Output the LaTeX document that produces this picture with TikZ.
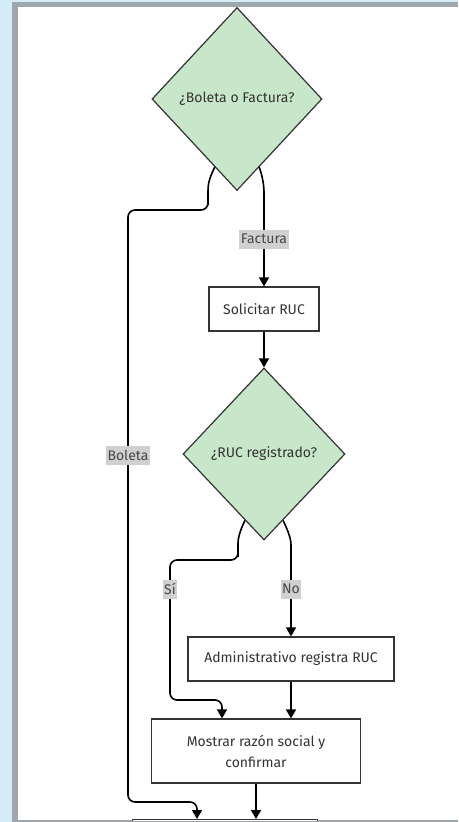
\documentclass[tikz,border=0pt]{standalone}
\usepackage{fontspec}
\setmainfont{Fira Sans}
\usetikzlibrary{shapes.geometric,arrows.meta,calc}
\definecolor{bgblue}{HTML}{D4ECF8}
\definecolor{framegray}{HTML}{9EA7AD}
\definecolor{dgreen}{HTML}{C8E6C9}
\definecolor{ink}{HTML}{333333}
\definecolor{lblgray}{HTML}{D0D0D0}
\begin{document}
\begin{tikzpicture}[x=1pt,y=-1pt,
  every node/.style={font=\fontsize{14}{21}\selectfont, text=ink},
  decision/.style={diamond, draw=ink, fill=dgreen, line width=1.2pt, inner sep=0pt},
  stepbox/.style={rectangle, draw=ink, fill=white, line width=1.2pt, inner sep=0pt, align=center},
  flow/.style={draw=black, line width=1.6pt, -{Triangle[length=9pt,width=10pt]}, rounded corners=7pt},
  lbl/.style={fill=lblgray, inner xsep=1.5pt, inner ysep=0pt, minimum height=19pt, text=ink!90}
]
\useasboundingbox (0,0) rectangle (458,822);
\fill[bgblue] (0,0) rectangle (458,822);
\fill[framegray] (12,2) rectangle (458,822);
\fill[white] (18,7) rectangle (458,820);
\clip (18,7) rectangle (458,820);

% nodes
\node[decision, minimum width=170pt, minimum height=183pt] (d1) at (237,99) {¿Boleta o Factura?};
\node[stepbox, minimum width=110pt, minimum height=44pt] (sol) at (264,309) {Solicitar RUC};
\node[decision, minimum width=162pt, minimum height=172pt] (d2) at (264,454) {¿RUC registrado?};
\node[stepbox, minimum width=206pt, minimum height=44pt] (adm) at (291,659) {Administrativo registra RUC};
\node[stepbox, minimum width=209pt, minimum height=64pt] (mos) at (256,751) {Mostrar razón social y\\confirmar};
\node[stepbox, minimum width=185pt, minimum height=40pt, anchor=north] (fin) at (225,819) {};

% helper coordinates on diamond sides
\coordinate (d1l) at ($(d1.west)!0.74!(d1.south)$);
\coordinate (d1r) at ($(d1.east)!0.74!(d1.south)$);
\coordinate (d2l) at ($(d2.west)!0.767!(d2.south)$);
\coordinate (d2r) at ($(d2.east)!0.767!(d2.south)$);

% edges
\draw[flow] (d1r) .. controls ($(d1r)+(5,14)$) and ($(sol.north)+(0,-95)$) .. ($(sol.north)+(0,-85)$) -- (sol.north);
\draw[flow] (sol.south) -- (d2.north);
\draw[flow] (d1l) .. controls ($(d1l)+(-6,12)$) and (208,185) .. (208,198) -- (208,210) -- (128,210) -- (128,802) -- (197,802) -- ([xshift=-28pt]fin.north);
\draw[flow] (d2r) .. controls ($(d2r)+(7,14)$) and ($(adm.north)+(0,-95)$) .. ($(adm.north)+(0,-85)$) -- (adm.north);
\draw[flow] (d2l) .. controls ($(d2l)+(-6,12)$) and (238,540) .. (238,550) -- (238,560) -- (170,560) -- (170,700) -- (222,700) -- ([xshift=-34pt]mos.north);
\draw[flow] (adm.south) -- ([xshift=35pt]mos.north);
\draw[flow] (mos.south) -- ([xshift=31pt]fin.north);

% labels
\node[lbl] (lf) at (264,239) {Factura};
\node[lbl] (lb) at (128,455) {Boleta};
\node[lbl] (ls) at (170,589) {Sí};
\node[lbl] (ln) at (291,589) {No};

\fill[framegray] (12,820.5) rectangle (458,822);
\end{tikzpicture}
\end{document}
